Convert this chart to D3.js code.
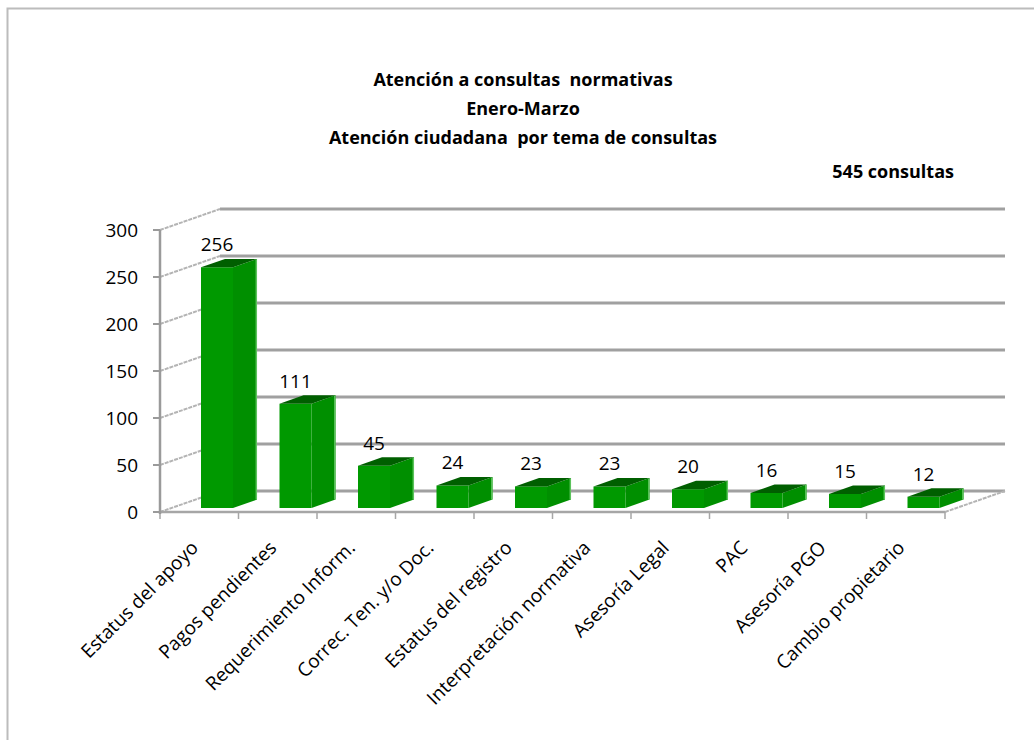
<!DOCTYPE html>
<html>
<head>
<meta charset="utf-8">
<script src="https://cdn.jsdelivr.net/npm/d3@7"></script>
<style>
  body { margin: 0; background: #fff; }
  text { font-family: "Open Sans", "DejaVu Sans", sans-serif; fill: #000; }
</style>
</head>
<body>
<svg id="chart" width="1034" height="740"></svg>
<script>
// data
const categories = [
  'Estatus del apoyo', 'Pagos pendientes', 'Requerimiento Inform.',
  'Correc. Ten. y/o Doc.', 'Estatus del registro', 'Interpretación normativa',
  'Asesoría Legal', 'PAC', 'Asesoría PGO', 'Cambio propietario'
];
const values = [256, 111, 45, 24, 23, 23, 20, 16, 15, 12];
const yTicks = [0, 50, 100, 150, 200, 250, 300];
const titleLines = ['Atención a consultas  normativas', 'Enero-Marzo', 'Atención ciudadana  por tema de consultas'];
const totalLabel = '545 consultas';

const svg = d3.select('#chart');

// outer chart border
svg.append('rect')
  .attr('x', 7.5).attr('y', 8.5)
  .attr('width', 1060).attr('height', 760)
  .attr('fill', 'none')
  .attr('stroke', '#bcbcbc')
  .attr('stroke-width', 2);

// scales (front plane)
const x = d3.scaleBand().domain(categories).range([160, 945]).padding(0);
const y = d3.scaleLinear().domain([0, 300]).range([512, 230]);

// oblique depth
const depth = { dx: 60, dy: -21 };
const proj = (px, py, t) => [px + depth.dx * t, py + depth.dy * t];
const pts = arr => arr.map(p => p.join(',')).join(' ');

const x0 = x.range()[0], x1 = x.range()[1];

// back wall gridlines
svg.append('g').selectAll('line')
  .data(yTicks)
  .join('line')
    .attr('x1', d => proj(x0, y(d), 1)[0])
    .attr('y1', d => proj(x0, y(d), 1)[1])
    .attr('x2', d => proj(x1, y(d), 1)[0])
    .attr('y2', d => proj(x1, y(d), 1)[1])
    .attr('stroke', '#a0a0a0')
    .attr('stroke-width', 3);

// side wall lines
svg.append('g').selectAll('line')
  .data(yTicks)
  .join('line')
    .attr('x1', x0).attr('y1', d => y(d))
    .attr('x2', d => proj(x0, y(d), 1)[0])
    .attr('y2', d => proj(x0, y(d), 1)[1])
    .attr('stroke', '#b4b4b4')
    .attr('stroke-width', 2)
    .attr('stroke-dasharray', '4,1');

// floor edges
svg.append('line')
  .attr('x1', x0).attr('y1', y(0))
  .attr('x2', x1).attr('y2', y(0))
  .attr('stroke', '#a6a6a6')
  .attr('stroke-width', 2.5);
svg.append('line')
  .attr('x1', x1).attr('y1', y(0))
  .attr('x2', proj(x1, y(0), 1)[0]).attr('y2', proj(x1, y(0), 1)[1])
  .attr('stroke', '#b4b4b4')
  .attr('stroke-width', 2)
  .attr('stroke-dasharray', '4,1');

// category ticks on floor
svg.append('g').selectAll('line')
  .data(d3.range(categories.length + 1))
  .join('line')
    .attr('x1', i => x0 + x.step() * i).attr('x2', i => x0 + x.step() * i)
    .attr('y1', y(0)).attr('y2', y(0) + 7)
    .attr('stroke', '#a6a6a6')
    .attr('stroke-width', 1.5);

// value axis
svg.append('line')
  .attr('x1', x0).attr('x2', x0)
  .attr('y1', y(300)).attr('y2', y(0) + 2)
  .attr('stroke', '#9a9a9a')
  .attr('stroke-width', 2.5);
svg.append('g').selectAll('line')
  .data(yTicks)
  .join('line')
    .attr('x1', x0 - 7).attr('x2', x0)
    .attr('y1', d => y(d)).attr('y2', d => y(d))
    .attr('stroke', '#9a9a9a')
    .attr('stroke-width', 2);
svg.append('g').selectAll('text')
  .data(yTicks)
  .join('text')
    .attr('x', 138)
    .attr('y', d => y(d))
    .attr('dy', '0.36em')
    .attr('text-anchor', 'end')
    .attr('font-size', 19)
    .text(d => d);

// bars
const barW = 32, barOff = 29.6, t1 = 0.19, t2 = 0.59;
const bars = svg.append('g').selectAll('g')
  .data(values.map((v, i) => ({ v, c: categories[i] })))
  .join('g');

bars.append('polygon') // side
  .attr('points', d => {
    const bx = x(d.c) + barOff + barW;
    return pts([proj(bx, y(0), t1), proj(bx, y(0), t2), proj(bx, y(d.v), t2), proj(bx, y(d.v), t1)]);
  })
  .attr('fill', '#008f00');
bars.append('line') // side highlight
  .attr('x1', d => proj(x(d.c) + barOff + barW, y(0), t2)[0] - 0.7)
  .attr('y1', d => proj(x(d.c) + barOff + barW, y(0), t2)[1])
  .attr('x2', d => proj(x(d.c) + barOff + barW, y(d.v), t2)[0] - 0.7)
  .attr('y2', d => proj(x(d.c) + barOff + barW, y(d.v), t2)[1])
  .attr('stroke', '#5cc25c')
  .attr('stroke-width', 1.5);
bars.append('polygon') // front
  .attr('points', d => {
    const bx = x(d.c) + barOff;
    return pts([proj(bx, y(0), t1), proj(bx + barW, y(0), t1), proj(bx + barW, y(d.v), t1), proj(bx, y(d.v), t1)]);
  })
  .attr('fill', '#009900');
bars.append('polygon') // top
  .attr('points', d => {
    const bx = x(d.c) + barOff;
    return pts([proj(bx, y(d.v), t1), proj(bx + barW, y(d.v), t1), proj(bx + barW, y(d.v), t2), proj(bx, y(d.v), t2)]);
  })
  .attr('fill', '#005f00');

// value labels
bars.append('text')
  .attr('x', d => proj(x(d.c) + barOff + barW / 2, y(d.v), t1)[0])
  .attr('y', d => proj(x(d.c) + barOff, y(d.v), t1)[1] - 16)
  .attr('text-anchor', 'middle')
  .attr('font-size', 19)
  .text(d => d.v);

// category labels
svg.append('g').selectAll('text')
  .data(categories)
  .join('text')
    .attr('transform', d => `translate(${x(d) + x.bandwidth() / 2},549) rotate(-45)`)
    .attr('text-anchor', 'end')
    .attr('font-size', 19)
    .text(d => d);

// titles
svg.append('g').selectAll('text')
  .data(titleLines)
  .join('text')
    .attr('x', 523)
    .attr('y', (d, i) => 86 + i * 29)
    .attr('text-anchor', 'middle')
    .attr('font-size', 18)
    .attr('font-weight', 'bold')
    .style('white-space', 'pre')
    .text(d => d);

svg.append('text')
  .attr('x', 954)
  .attr('y', 178)
  .attr('text-anchor', 'end')
  .attr('font-size', 18)
  .attr('font-weight', 'bold')
  .text(totalLabel);
</script>
</body>
</html>
